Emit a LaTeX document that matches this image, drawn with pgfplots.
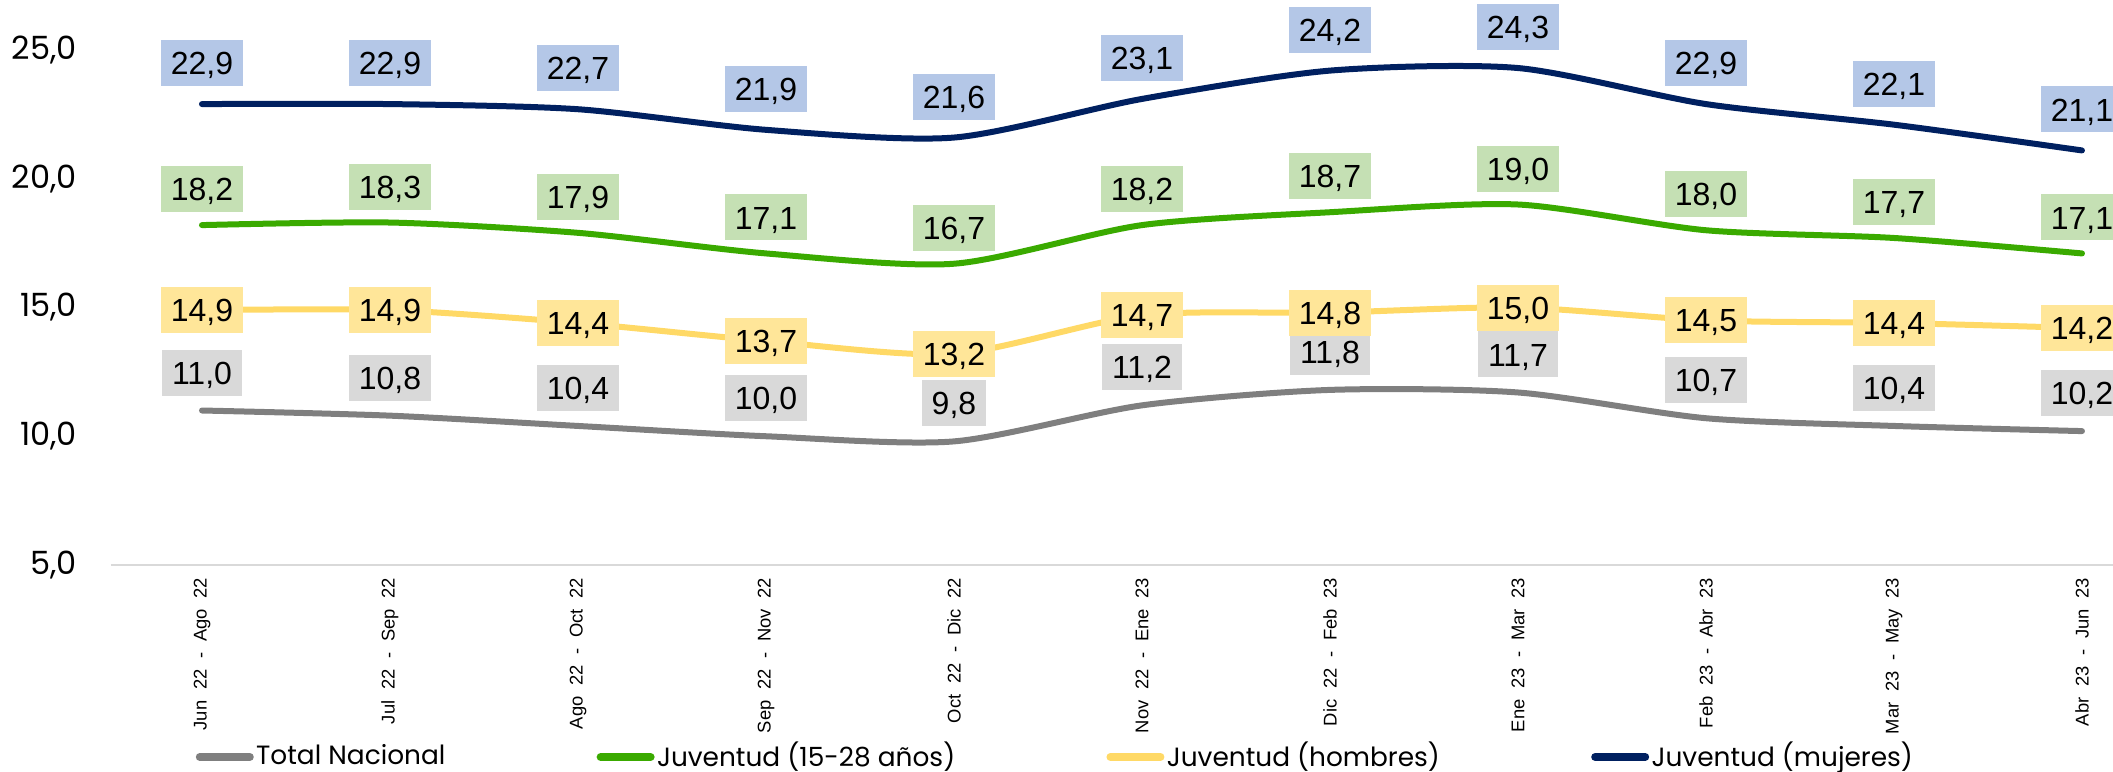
\documentclass[border=0pt]{standalone}
\usepackage{fontspec}
\setmainfont{Liberation Sans}
\newfontfamily\popfont{Poppins}
\newfontfamily\tickfont[WordSpace=2.1]{Liberation Sans}
\usepackage{pgfplots}
\usepackage{pgfplotstable}
\pgfplotsset{compat=1.18}
\usetikzlibrary{calc}

\definecolor{cgray}{HTML}{7F7F7F}
\definecolor{cgreen}{HTML}{3AAA00}
\definecolor{cyellow}{HTML}{FFD966}
\definecolor{cnavy}{HTML}{002060}
\definecolor{fgray}{HTML}{D9D9D9}
\definecolor{fgreen}{HTML}{C5E0B4}
\definecolor{fyellow}{HTML}{FFE699}
\definecolor{fblue}{HTML}{B4C7E7}

\pgfplotstableread{
x tot juv hom muj
0 11.0 18.2 14.9 22.9
1 10.8 18.3 14.9 22.9
2 10.4 17.9 14.4 22.7
3 10.0 17.1 13.7 21.9
4 9.8  16.7 13.2 21.6
5 11.2 18.2 14.7 23.1
6 11.8 18.7 14.8 24.2
7 11.7 19.0 15.0 24.3
8 10.7 18.0 14.5 22.9
9 10.4 17.7 14.4 22.1
10 10.2 17.1 14.2 21.1
}\datatable

\begin{document}
\begin{tikzpicture}
    \begin{axis}[
        name=ax,
        scale only axis,
        width=500.5pt,
        height=128.75pt,
        xmin=-0.484, xmax=10.165,
        ymin=5, ymax=25,
        clip=false,
        axis x line*=bottom,
        axis y line*=left,
        x axis line style={draw=fgray, line width=0.6pt},
        y axis line style={draw=none},
        tick style={draw=none},
        ytick={5,10,15,20,25},
        xtick={0,...,10},
        xticklabels={
            Jun 22 - Ago 22, Jul 22 - Sep 22, Ago 22 - Oct 22,
            Sep 22 - Nov 22, Oct 22 - Dic 22, Nov 22 - Ene 23,
            Dic 22 - Feb 23, Ene 23 - Mar 23, Feb 23 - Abr 23,
            Mar 23 - May 23, Abr 23 - Jun 23},
        x tick label style={rotate=90, anchor=east, inner sep=0pt,
            xshift=-3pt, font=\tickfont\fontsize{4.6}{5.5}\selectfont},
        y tick label style={font=\popfont\fontsize{8}{9.6}\selectfont, xshift=-5pt},
        /pgf/number format/.cd, fixed, fixed zerofill, precision=1, use comma,
            assume math mode=true,
        /pgfplots/.cd,
        every axis plot/.append style={smooth, tension=0.45, line width=1.5pt, line cap=round},
        nodes near coords={\pgfmathprintnumber[fixed,fixed zerofill,precision=1,use comma,assume math mode=true]{\pgfplotspointmeta}},
        every node near coord/.append style={anchor=center, text=black,
            font=\fontsize{8}{9.6}\selectfont, inner xsep=2.5pt, inner ysep=2.85pt,
            text height=5.8pt, text depth=0pt},
        legend columns=4,
        legend cell align=left,
        legend style={draw=none, fill=none, inner sep=0pt,
            at={(axis description cs:0,0)}, anchor=west,
            xshift=21pt, yshift=-48pt,
            font=\popfont\fontsize{6.6}{7.9}\selectfont,
            nodes={inner xsep=0.6pt, inner ysep=0pt},
            /tikz/every even column/.append style={column sep=37.2pt}},
        legend image code/.code={\draw[#1, line width=2pt] (0pt,0pt) -- (12.5pt,0pt);},
    ]
        \addplot[color=cgray, every node near coord/.append style={fill=fgray, yshift=9.5pt}]
            table[x=x, y=tot]{\datatable};
        \addplot[color=cgreen, every node near coord/.append style={fill=fgreen, yshift=9pt}]
            table[x=x, y=juv]{\datatable};
        \addplot[color=cyellow, every node near coord/.append style={fill=fyellow, yshift=0pt}]
            table[x=x, y=hom]{\datatable};
        \addplot[color=cnavy, every node near coord/.append style={fill=fblue, yshift=10.25pt}]
            table[x=x, y=muj]{\datatable};
        \legend{Total Nacional, Juventud (15-28 años), Juventud (hombres), Juventud (mujeres)}
    \end{axis}
    \pgfresetboundingbox
    \path[use as bounding box] ($(ax.south west)+(-27.75pt,-51.75pt)$) rectangle ($(ax.north east)+(0pt,12.5pt)$);
\end{tikzpicture}
\end{document}
